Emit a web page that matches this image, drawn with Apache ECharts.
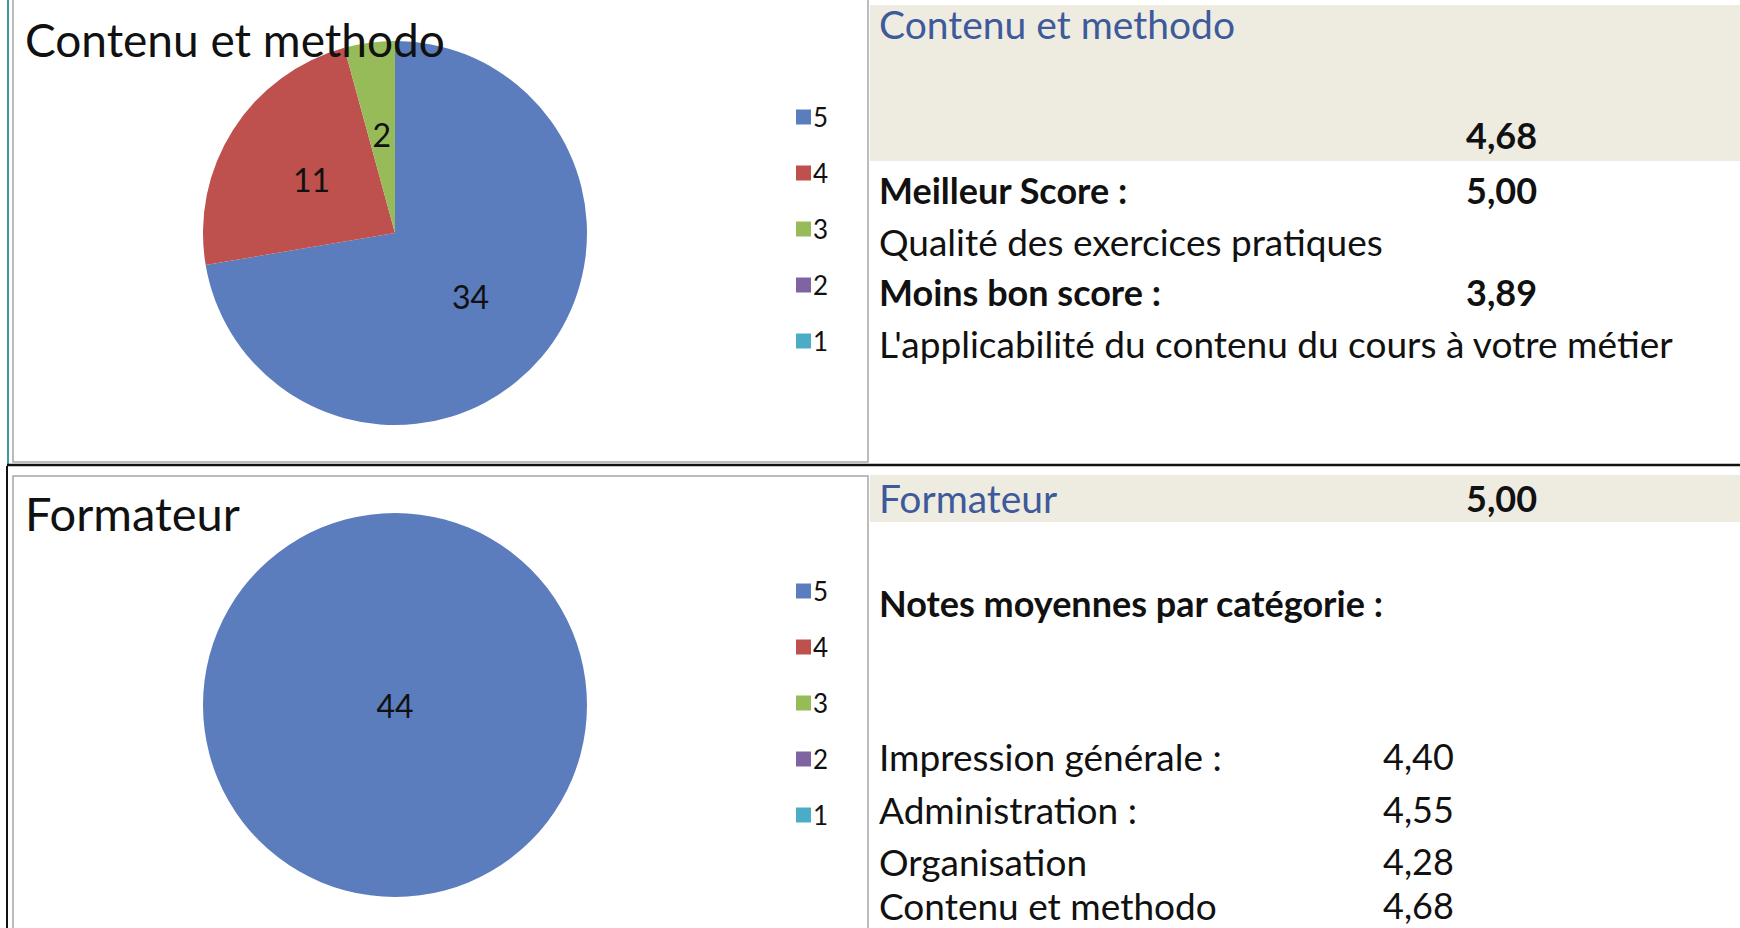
<!DOCTYPE html>
<html>
<head>
    <meta charset="utf-8">
    <title>ECharts</title>
    <script src="https://cdn.jsdelivr.net/npm/echarts@6/dist/echarts.min.js"></script>
    <style>
        html, body { margin: 0; padding: 0; background: #fff; }
    </style>
</head>
<body>
    <div id="main" style="width: 1740px;height:928px;"></div>
    <script type="text/javascript">
    // notes 5..1 et nombre de réponses
    var ratingNames = ['5', '4', '3', '2', '1'];
    var ratingColors = ['#5B7CBD', '#BE504D', '#98BB59', '#8064A2', '#4BACC6'];
    var contenuCounts = [34, 11, 2, 0, 0];
    var formateurCounts = [44, 0, 0, 0, 0];

    var contenuTitle = 'Contenu et methodo';
    var contenuScore = '4,68';
    var bestScore = '5,00';
    var bestItem = 'Qualité des exercices pratiques';
    var worstScore = '3,89';
    var worstItem = "L'applicabilité du contenu du cours à votre métier";
    var formateurTitle = 'Formateur';
    var formateurScore = '5,00';
    var categoryNames = ['Impression générale :', 'Administration :', 'Organisation', 'Contenu et methodo'];
    var categoryScores = ['4,40', '4,55', '4,28', '4,68'];

    var FONT = 'Lato, "Noto Sans", sans-serif';
    var myChart = echarts.init(document.getElementById('main'), null, {renderer: 'svg'});

    function pieData(counts) {
        return ratingNames.map(function (n, i) {
            return {name: n, value: counts[i], itemStyle: {color: ratingColors[i]}};
        });
    }
    function onlyOne(counts) {
        return counts.filter(function (v) { return v > 0; }).length === 1;
    }
    function pieSeries(counts, cy) {
        return {
            type: 'pie',
            center: [395, cy],
            radius: 192,
            startAngle: 90,
            clockwise: true,
            avoidLabelOverlap: false,
            silent: true,
            data: pieData(counts),
            itemStyle: {borderWidth: 0},
            label: {
                show: true,
                position: onlyOne(counts) ? 'center' : 'inside',
                color: '#111',
                fontFamily: FONT,
                fontSize: 32,
                formatter: function (p) { return p.value ? String(p.value) : ''; }
            },
            labelLine: {show: false},
            emphasis: {disabled: true}
        };
    }
    function legend(top) {
        return {
            orient: 'vertical',
            left: 796,
            top: top,
            padding: 0,
            icon: 'rect',
            itemWidth: 15,
            itemHeight: 15,
            itemGap: 30,
            selectedMode: false,
            data: ratingNames,
            textStyle: {fontFamily: FONT, fontSize: 26, lineHeight: 24, color: '#111', padding: [0, 0, 0, -3]}
        };
    }
    function txt(s, x, y, size, weight, color) {
        return {
            type: 'text', x: x, y: y, z: 10,
            style: {text: s, fill: color || '#111', fontFamily: FONT, fontSize: size,
                    fontWeight: weight || 'normal', verticalAlign: 'middle', lineHeight: size}
        };
    }
    function line(x1, y1, x2, y2, color, w) {
        return {type: 'line', shape: {x1: x1, y1: y1, x2: x2, y2: y2}, z: 5,
                style: {stroke: color, lineWidth: w}};
    }

    var BLUE = '#3E5A9A';
    var rowX = 879, numX = 1466, catNumX = 1383;
    var BODY = 37, BOLD = 36, HEAD = 39;
    var elements = [
        {type: 'rect', shape: {x: 870, y: 5, width: 870, height: 156}, style: {fill: '#EEECE1'}},
        {type: 'rect', shape: {x: 870, y: 475, width: 870, height: 47}, style: {fill: '#EEECE1'}},
        // cadres
        {type: 'rect', shape: {x: 13, y: -5, width: 855, height: 467}, z: 5,
         style: {fill: 'none', stroke: '#A6A6A6', lineWidth: 1.5}},
        {type: 'rect', shape: {x: 13, y: 476, width: 855, height: 470}, z: 5,
         style: {fill: 'none', stroke: '#A6A6A6', lineWidth: 1.5}},
        line(8, 0, 8, 465, '#3A9C9C', 2),
        line(7, 466, 7, 928, '#111', 2),
        line(7, 465, 1740, 465, '#111', 2.5),
        // titres graphiques
        txt(contenuTitle, 25, 39, 46),
        txt(formateurTitle, 25, 513, 47),
        // bloc haut
        txt(contenuTitle, rowX, 24, HEAD, 'normal', BLUE),
        txt(contenuScore, numX, 135, BOLD, 'bold'),
        txt('Meilleur Score :', rowX, 190, BOLD, 'bold'),
        txt(bestScore, numX, 190, BOLD, 'bold'),
        txt(bestItem, rowX, 241, BODY),
        txt('Moins bon score :', rowX, 292, BOLD, 'bold'),
        txt(worstScore, numX, 292, BOLD, 'bold'),
        txt(worstItem, rowX, 343, BODY),
        // bloc bas
        txt(formateurTitle, rowX, 498, HEAD, 'normal', BLUE),
        txt(formateurScore, numX, 498, BOLD, 'bold'),
        txt('Notes moyennes par catégorie :', rowX, 603, BOLD, 'bold')
    ];
    var catY = [756, 809, 861, 905];
    categoryNames.forEach(function (n, i) {
        elements.push(txt(n, rowX, catY[i], BODY));
        elements.push(txt(categoryScores[i], catNumX, catY[i], 36));
    });

    var option = {
        animation: false,
        legend: [legend(104), legend(578)],
        graphic: {elements: elements},
        series: [pieSeries(contenuCounts, 233), pieSeries(formateurCounts, 705)]
    };
    myChart.setOption(option);
    </script>
</body>
</html>
